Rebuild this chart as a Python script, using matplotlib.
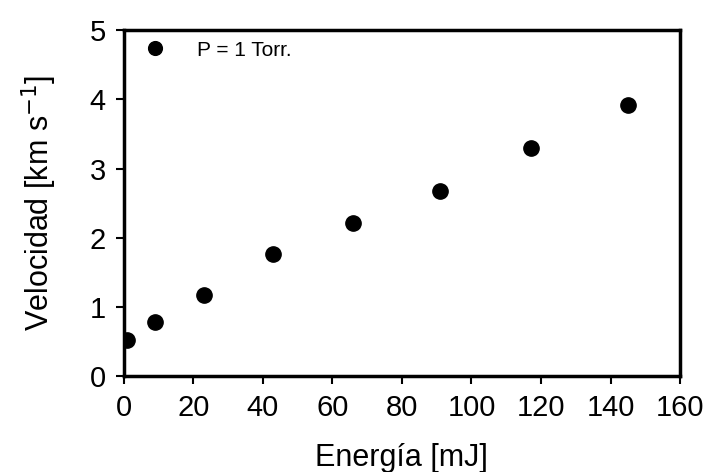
import matplotlib.pyplot as plt

plt.rcParams['font.family'] = ['Liberation Sans', 'DejaVu Sans']

# values
energia = [1, 9, 23, 43, 66, 91, 117, 145]
velocidad = [0.52, 0.79, 1.18, 1.77, 2.21, 2.67, 3.30, 3.92]
x_ticks = [0, 20, 40, 60, 80, 100, 120, 140, 160]
y_ticks = [0, 1, 2, 3, 4, 5]

fig = plt.figure(figsize=(7.07, 4.72), dpi=100)
ax = fig.add_axes([0.175, 0.203, 0.787, 0.733])

ax.plot(energia, velocidad, 'o', color='black', markersize=11, label='P = 1 Torr.')

ax.set_xlim(0, 160)
ax.set_ylim(0, 5)
ax.set_xticks(x_ticks)
ax.set_yticks(y_ticks)
ax.tick_params(direction='out', length=6, width=1.5, labelsize=21, pad=7)
for spine in ax.spines.values():
    spine.set_linewidth(2.5)

ax.set_xlabel('Energía [mJ]', fontsize=22, labelpad=15)
ax.set_ylabel('Velocidad [km s$^{-1}$]', fontsize=22, labelpad=22)

ax.legend(loc='upper left', frameon=False, fontsize=15, handletextpad=1.0,
          borderaxespad=0.2, markerscale=0.9, borderpad=0.3)

plt.savefig('out.png', dpi=100)
